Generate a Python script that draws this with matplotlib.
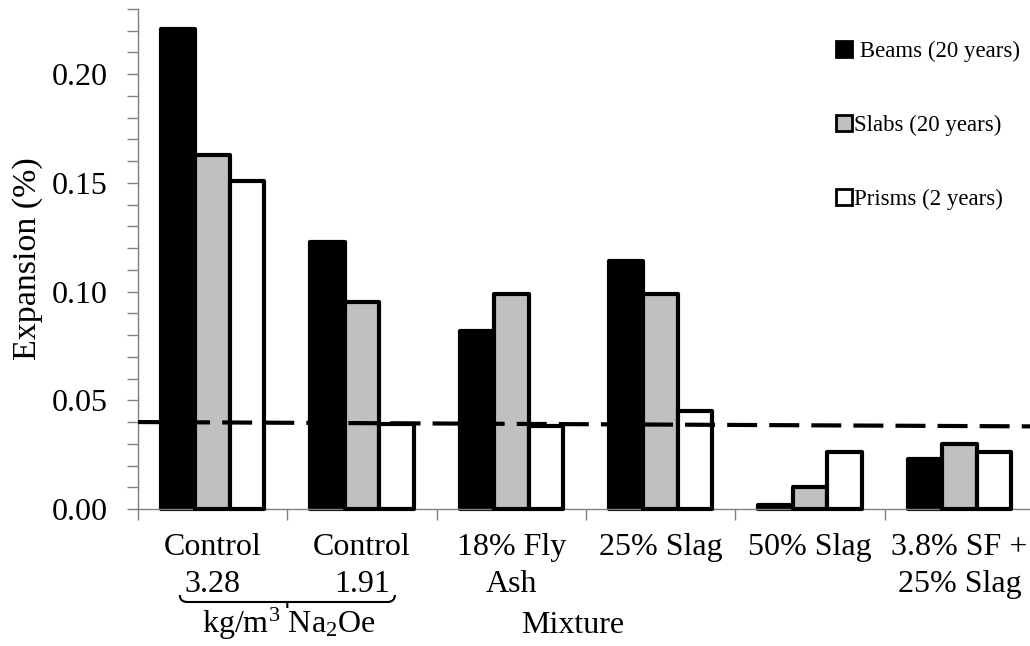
import numpy as np
import matplotlib.pyplot as plt
from matplotlib.patches import Patch, PathPatch
from matplotlib.path import Path
from matplotlib.transforms import blended_transform_factory
from matplotlib.ticker import MultipleLocator, FormatStrFormatter

plt.rcParams['font.family'] = ['Liberation Serif', 'DejaVu Serif']
plt.rcParams['mathtext.fontset'] = 'custom'
plt.rcParams['mathtext.rm'] = 'Liberation Serif'

# data
mixtures = ["Control\n3.28", "Control\n1.91", "18% Fly\nAsh", "25% Slag",
            "50% Slag", "3.8% SF +\n25% Slag"]
series = [" Beams (20 years)", "Slabs (20 years)", "Prisms (2 years)"]
beams = [0.221, 0.123, 0.082, 0.114, 0.002, 0.023]
slabs = [0.163, 0.095, 0.099, 0.099, 0.010, 0.030]
prisms = [0.151, 0.039, 0.038, 0.045, 0.026, 0.026]
limit_x = [-0.5, 5.5]
limit_y = [0.040, 0.038]

colors = ["black", "#c0c0c0", "white"]

fig = plt.figure(figsize=(10.3, 6.46), dpi=100)
ax = fig.add_axes([138/1030, 137/646, 896/1030, 500/646])

x = np.arange(len(mixtures))
w = 0.23
for k, (vals, c) in enumerate(zip([beams, slabs, prisms], colors)):
    ax.bar(x + (k - 1)*w, vals, w, color=c, edgecolor="black", linewidth=3,
           joinstyle="round", zorder=2+k, clip_on=False)

# dashed limit line
ax.plot(limit_x, limit_y, color="black", lw=3, dashes=(7.2, 2.9), zorder=10,
        clip_on=False)

ax.set_xlim(-0.5, 5.5)
ax.set_ylim(0, 0.23)
ax.yaxis.set_major_locator(MultipleLocator(0.05))
ax.yaxis.set_minor_locator(MultipleLocator(0.01))
ax.yaxis.set_major_formatter(FormatStrFormatter("%.2f"))
ax.tick_params(axis="y", which="both", direction="out", length=8, width=1,
               color="#808080", labelsize=23, pad=14)

ax.set_xticks(x)
ax.set_xticklabels(mixtures, fontsize=23, va="top", linespacing=1.38)
ax.set_xticks(np.arange(-0.5, 6), minor=True)
ax.tick_params(axis="x", which="major", length=0, pad=17)
ax.tick_params(axis="x", which="minor", direction="out", length=8, width=1,
               color="#808080")

for s in ["top", "right"]:
    ax.spines[s].set_visible(False)
for s in ["left", "bottom"]:
    ax.spines[s].set_color("#808080")
    ax.spines[s].set_linewidth(1)

ax.set_ylabel("Expansion (%)", fontsize=24.5, labelpad=6)

# brace under the two controls
tr = blended_transform_factory(ax.transData, fig.transFigure)
def fy(py):
    return 1 - py/646
x0, xc, x1 = -0.22, 0.5, 1.22
d = 0.05
verts = [(x0, fy(595)), (x0, fy(602)), (x0 + d, fy(602)),
         (x1 - d, fy(602)), (x1, fy(602)), (x1, fy(595)),
         (xc, fy(602)), (xc, fy(608))]
codes = [Path.MOVETO, Path.CURVE3, Path.CURVE3,
         Path.LINETO, Path.CURVE3, Path.CURVE3,
         Path.MOVETO, Path.LINETO]
fig.add_artist(PathPatch(Path(verts, codes), transform=tr, fill=False,
                         lw=1.5, edgecolor="black"))
ax.text(0.51, fy(633), r"kg/m$\mathregular{^3}$ Na$\mathregular{_2}$Oe",
        transform=tr, ha="center", va="baseline", fontsize=23)
ax.text(2.41, fy(633), "Mixture", transform=tr, ha="center", va="baseline",
        fontsize=23)

handles = [Patch(facecolor=c, edgecolor="black", linewidth=2) for c in colors]
fig.legend(handles, series, loc="upper left",
           bbox_to_anchor=(836/1030, 1 - 41/646), frameon=False,
           fontsize=16.5, handlelength=0.68, handleheight=0.68,
           handletextpad=0.1, labelspacing=2.3, borderpad=0,
           borderaxespad=0)

fig.savefig("out.png", dpi=100)
